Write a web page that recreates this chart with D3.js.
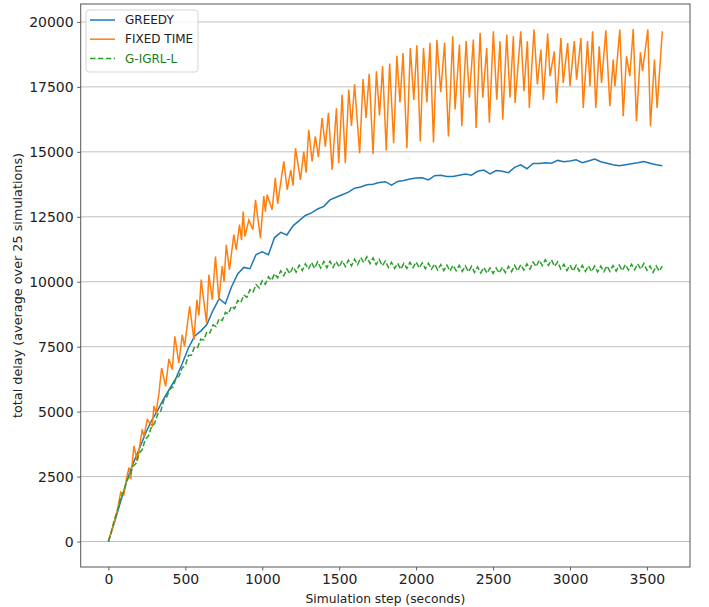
<!DOCTYPE html>
<html>
<head>
<meta charset="utf-8">
<script src="https://cdn.jsdelivr.net/npm/d3@7"></script>
<style>
  body { margin: 0; background: #fff; }
  text { font-family: "DejaVu Sans", sans-serif; }
</style>
</head>
<body>
<div id="chart"></div>
<script>
// GREEDY, sampled every 40 s
const greedySteps = d3.range(0, 3601, 40);
const greedyValues = [
  0, 750, 1550, 2350, 3000, 3550, 4150, 4650, 5050, 5500,
  5900, 6300, 6850, 7450, 7900, 8100, 8350, 8900, 9350, 9150,
  9800, 10300, 10550, 10500, 11050, 11150, 11040, 11700, 11900, 11800,
  12150, 12350, 12550, 12650, 12800, 12900, 13150, 13250, 13350, 13450,
  13600, 13650, 13730, 13750, 13820, 13850, 13720, 13860, 13900, 13950,
  13990, 14000, 13920, 14080, 14100, 14050, 14050, 14100, 14150, 14100,
  14250, 14300, 14150, 14280, 14250, 14200, 14400, 14500, 14350, 14550,
  14550, 14580, 14560, 14670, 14620, 14650, 14690, 14580, 14650, 14720,
  14620, 14560, 14500, 14460, 14500, 14540, 14580, 14630, 14560, 14500,
  14460
];

// FIXED TIME, peaks and troughs
const fixedSteps = [
  0, 40, 60, 80, 100, 120, 134, 145, 166, 188, 220, 231, 253, 270, 285, 296, 310, 329,
  346, 372, 393, 415, 432, 458, 480, 495, 528, 556, 575, 588, 603, 638, 653, 675, 696, 718,
  740, 752, 766, 787, 815, 831, 852, 865, 876, 887, 913, 939, 956, 988, 1010, 1020, 1032, 1064,
  1085, 1100, 1140, 1162, 1185, 1200, 1216, 1248, 1270, 1285, 1302, 1324, 1345, 1365, 1389, 1410,
  1430, 1454, 1482, 1497, 1519, 1540, 1562, 1580, 1600, 1633, 1655, 1675, 1695, 1720, 1742, 1762,
  1782, 1806, 1828, 1854, 1875, 1895, 1915, 1940, 1962, 1985, 2005, 2027, 2048, 2070, 2090, 2113,
  2135, 2160, 2185, 2210, 2238, 2253, 2282, 2297, 2325, 2346, 2372, 2390, 2416, 2433, 2459, 2476,
  2502, 2524, 2545, 2563, 2589, 2610, 2632, 2643, 2680, 2701, 2723, 2736, 2766, 2788, 2811, 2827,
  2855, 2870, 2898, 2913, 2941, 2956, 2985, 3000, 3028, 3043, 3071, 3086, 3114, 3130, 3147, 3168,
  3190, 3205, 3233, 3259, 3281, 3292, 3324, 3346, 3367, 3389, 3411, 3432, 3458, 3471, 3506, 3523,
  3549, 3566, 3600
];
const fixedValues = [
  0, 800, 1250, 1900, 1800, 2500, 2850, 2400, 3680, 3100, 4320, 4060, 4700, 4550, 4450, 5220, 4950, 5730,
  6680, 5970, 7030, 6620, 7900, 6870, 7960, 7510, 9050, 7770, 9300, 8700, 10080, 8410, 10270, 9310, 10970, 9310,
  10600, 10000, 11420, 10460, 11810, 11230, 12200, 11600, 12700, 11740, 12380, 12000, 13150, 11680, 13300, 12700, 13350, 12770,
  14000, 13000, 14630, 13540, 14300, 13700, 15140, 13920, 15000, 14200, 15850, 14630, 15600, 14800, 16300, 15200,
  16500, 14310, 16680, 14560, 17200, 14560, 17400, 16000, 17600, 14950, 17800, 16300, 18000, 14920, 18100, 16400,
  18300, 15050, 18400, 15330, 18700, 16900, 18800, 15140, 19000, 17000, 19100, 15400, 19000, 16900, 19200, 15360,
  19300, 17300, 19200, 15590, 19450, 16630, 19130, 15990, 19260, 17080, 19320, 15920, 19580, 17080, 19000, 16120,
  19640, 17010, 19260, 16240, 19510, 17080, 19450, 16880, 19640, 17330, 19260, 16690, 19710, 17590, 18940, 17010,
  19550, 17910, 18870, 16880, 19380, 17650, 19190, 17530, 19260, 17780, 19380, 16690, 19260, 17530, 19640, 16690,
  19060, 17650, 19680, 16760, 18550, 17530, 19710, 16370, 18680, 17910, 19730, 16180, 18830, 18100, 19710, 15990,
  18550, 16690, 19640
];

// G-IGRL-L, sampled every 20 s
const igrlSteps = d3.range(0, 3601, 20);
const igrlValues = [
  0, 400, 870, 1200, 1700, 1920, 2360, 2530, 2900, 3010,
  3400, 3540, 3940, 4060, 4420, 4540, 4900, 5010, 5440, 5580,
  5870, 5950, 6280, 6380, 6690, 6780, 7160, 7180, 7500, 7470,
  7790, 7760, 8070, 8030, 8340, 8270, 8580, 8510, 8820, 8760,
  9060, 8960, 9280, 9190, 9490, 9400, 9690, 9600, 9890, 9760,
  10040, 9900, 10190, 10050, 10310, 10150, 10420, 10230, 10490, 10310,
  10570, 10370, 10640, 10430, 10690, 10480, 10740, 10520, 10770, 10530,
  10780, 10540, 10790, 10550, 10780, 10560, 10810, 10580, 10830, 10610,
  10870, 10660, 10930, 10740, 10960, 10700, 10920, 10660, 10860, 10610,
  10800, 10550, 10750, 10510, 10710, 10480, 10710, 10510, 10750, 10540,
  10760, 10530, 10730, 10500, 10710, 10480, 10680, 10450, 10660, 10430,
  10640, 10410, 10630, 10420, 10630, 10400, 10610, 10380, 10590, 10360,
  10570, 10340, 10550, 10330, 10530, 10320, 10530, 10330, 10560, 10350,
  10590, 10390, 10630, 10420, 10660, 10450, 10690, 10490, 10760, 10580,
  10830, 10620, 10850, 10630, 10840, 10590, 10770, 10490, 10670, 10430,
  10640, 10410, 10630, 10410, 10630, 10400, 10610, 10390, 10600, 10380,
  10600, 10390, 10610, 10400, 10620, 10410, 10640, 10430, 10660, 10450,
  10670, 10460, 10690, 10480, 10700, 10440, 10610, 10360, 10610, 10410,
  10600
];

const xTicks = [0, 500, 1000, 1500, 2000, 2500, 3000, 3500];
const yTicks = [0, 2500, 5000, 7500, 10000, 12500, 15000, 17500, 20000];

const seriesNames = ["GREEDY", "FIXED TIME", "G-IGRL-L"];

const width = 709;
const height = 607;
const margin = { top: 4, right: 19, bottom: 40, left: 80.7 };

const svg = d3
  .select("#chart")
  .append("svg")
  .attr("width", width)
  .attr("height", height);

const x = d3.scaleLinear().domain([-180, 3780]).range([margin.left, width - margin.right]);
const y = d3.scaleLinear().domain([-980, 20690]).range([height - margin.bottom, margin.top]);

// horizontal grid
svg.append("g")
  .selectAll("line")
  .data(yTicks)
  .join("line")
  .attr("x1", margin.left)
  .attr("x2", width - margin.right)
  .attr("y1", (d) => y(d))
  .attr("y2", (d) => y(d))
  .attr("stroke", "#b0b0b0")
  .attr("stroke-width", 0.8);

// axes
const xAxis = svg.append("g")
  .attr("transform", `translate(0, ${height - margin.bottom})`)
  .call(d3.axisBottom(x).tickValues(xTicks).tickFormat(d3.format("d")).tickSize(3.5).tickPadding(3.5));
const yAxis = svg.append("g")
  .attr("transform", `translate(${margin.left}, 0)`)
  .call(d3.axisLeft(y).tickValues(yTicks).tickFormat(d3.format("d")).tickSize(3.5).tickPadding(3.5));

[xAxis, yAxis].forEach((a) => {
  a.select(".domain").remove();
  a.selectAll(".tick line").attr("stroke", "#333").attr("stroke-width", 0.8);
  a.selectAll(".tick text")
    .style("font-family", "DejaVu Sans")
    .style("font-size", "14px")
    .attr("fill", "#222");
});

const line = d3.line().x((d) => x(d[0])).y((d) => y(d[1]));

const greedy = greedySteps.map((s, i) => [s, greedyValues[i]]);
const fixed = fixedSteps.map((s, i) => [s, fixedValues[i]]);
const igrl = igrlSteps.map((s, i) => [s, igrlValues[i]]);

const plot = svg.append("g");
plot.append("path")
  .datum(greedy)
  .attr("d", line)
  .attr("fill", "none")
  .attr("stroke", "#1f77b4")
  .attr("stroke-width", 1.5);
plot.append("path")
  .datum(fixed)
  .attr("d", line)
  .attr("fill", "none")
  .attr("stroke", "#ff7f0e")
  .attr("stroke-width", 1.5);
plot.append("path")
  .datum(igrl)
  .attr("d", line)
  .attr("fill", "none")
  .attr("stroke", "#2ca02c")
  .attr("stroke-width", 1.5)
  .attr("stroke-dasharray", "5.5,2.4");

// frame
svg.append("rect")
  .attr("x", margin.left)
  .attr("y", margin.top)
  .attr("width", width - margin.left - margin.right)
  .attr("height", height - margin.top - margin.bottom)
  .attr("fill", "none")
  .attr("stroke", "#555")
  .attr("stroke-width", 1);

// axis labels
svg.append("text")
  .attr("x", (margin.left + width - margin.right) / 2)
  .attr("y", 603)
  .attr("text-anchor", "middle")
  .style("font-size", "12.3px")
  .attr("fill", "#222")
  .text("Simulation step (seconds)");
svg.append("text")
  .attr("transform", `translate(22, ${(margin.top + height - margin.bottom) / 2}) rotate(-90)`)
  .attr("text-anchor", "middle")
  .style("font-size", "12.8px")
  .attr("fill", "#222")
  .text("total delay (average over 25 simulations)");

// legend
const legend = svg.append("g").attr("transform", "translate(86, 10)");
legend.append("rect")
  .attr("width", 112)
  .attr("height", 62)
  .attr("rx", 3)
  .attr("fill", "#fff")
  .attr("fill-opacity", 0.8)
  .attr("stroke", "#d5d5d5");
const colors = ["#1f77b4", "#ff7f0e", "#2ca02c"];
const textColors = ["#222", "#222", "#1a801a"];
seriesNames.forEach((name, i) => {
  const row = legend.append("g").attr("transform", `translate(0, ${10 + i * 19.2})`);
  row.append("line")
    .attr("x1", 4)
    .attr("x2", 29)
    .attr("stroke", colors[i])
    .attr("stroke-width", 1.5)
    .attr("stroke-dasharray", i === 2 ? "5.5,2.4" : null);
  row.append("text")
    .attr("x", 39)
    .attr("dy", "0.35em")
    .style("font-size", "12px")
    .attr("fill", textColors[i])
    .text(name);
});
</script>
</body>
</html>
